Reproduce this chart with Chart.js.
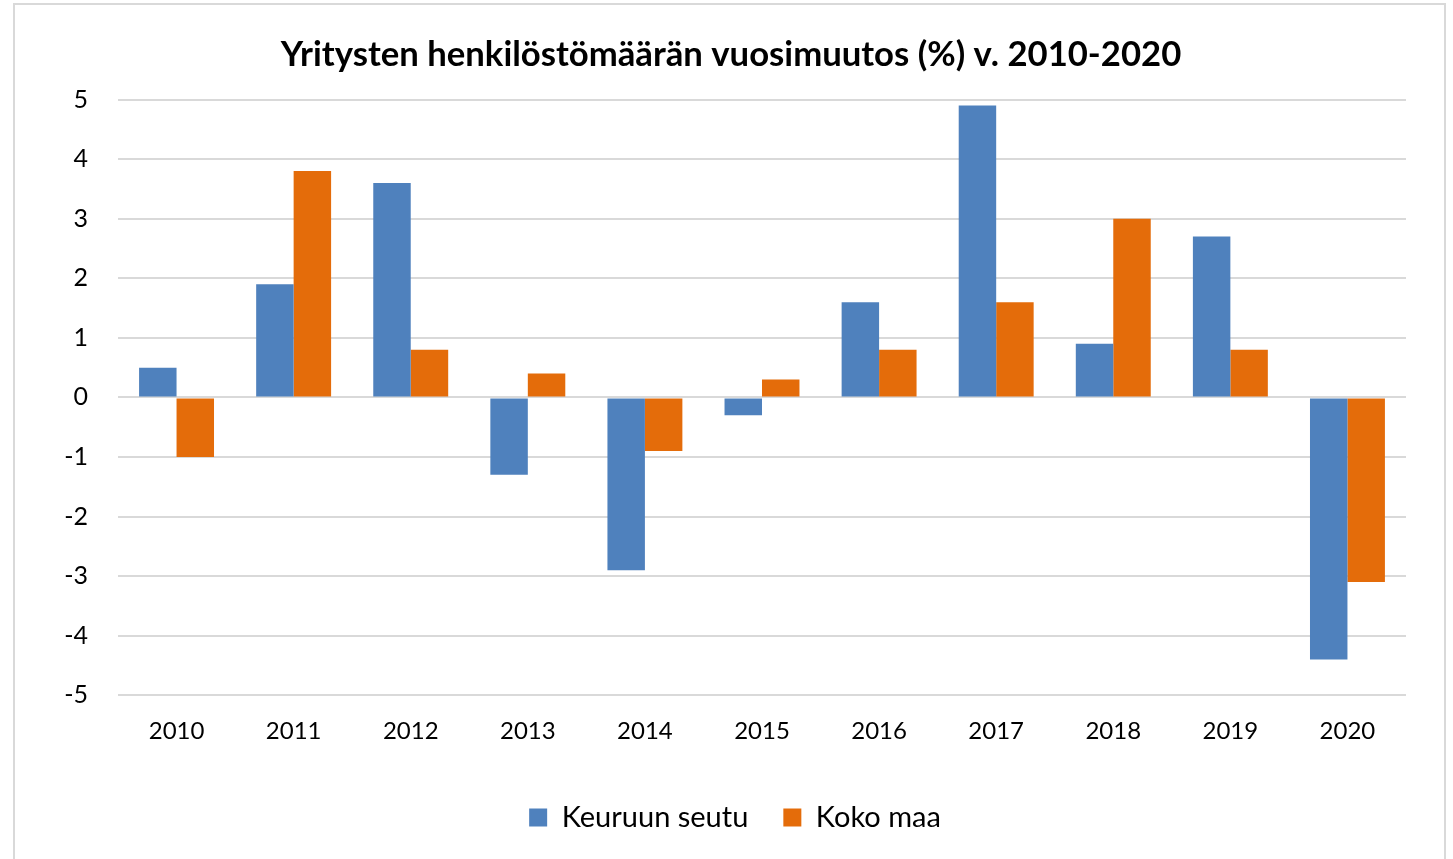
<!DOCTYPE html>
<html><head><meta charset="utf-8">
<script src="https://cdn.jsdelivr.net/npm/chart.js@4.4.1/dist/chart.umd.min.js"></script>
<style>html,body{margin:0;padding:0;background:#fff;}#wrap{width:1453px;height:859px;position:relative;}</style>
</head><body><div id="wrap"><canvas id="c" width="1453" height="859"></canvas></div>
<script>
const categories = ['2010','2011','2012','2013','2014','2015','2016','2017','2018','2019','2020'];
const keuruu = [0.5, 1.9, 3.6, -1.3, -2.9, -0.3, 1.6, 4.9, 0.9, 2.7, -4.4];
const kokoMaa = [-1.0, 3.8, 0.8, 0.4, -0.9, 0.3, 0.8, 1.6, 3.0, 0.8, -3.1];
const seriesNames = ['Keuruun seutu', 'Koko maa'];
const titleText = 'Yritysten henkilöstömäärän vuosimuutos (%) v. 2010-2020';

const borderPlugin = {
  id: 'frame',
  beforeDraw(chart) {
    const ctx = chart.ctx;
    ctx.save();
    ctx.strokeStyle = '#d9d9d9';
    ctx.lineWidth = 2;
    ctx.strokeRect(14, 4, 1431, 900);
    ctx.restore();
  }
};
const shiftPlugin = {
  id: 'shift',
  afterLayout(chart) {
    if (chart.titleBlock) { chart.titleBlock.left += 28; chart.titleBlock.right += 28; }
    if (chart.legend) { chart.legend.left += 32; chart.legend.right += 32; }
  }
};

new Chart(document.getElementById('c'), {
  type: 'bar',
  data: {
    labels: categories,
    datasets: [
      { label: seriesNames[0], data: keuruu, backgroundColor: '#4f81bd', categoryPercentage: 0.64, barPercentage: 1.0 },
      { label: seriesNames[1], data: kokoMaa, backgroundColor: '#e46c0a', categoryPercentage: 0.64, barPercentage: 1.0 }
    ]
  },
  options: {
    responsive: false,
    animation: false,
    devicePixelRatio: 1,
    layout: { padding: { left: 0, right: 47, top: 34, bottom: 17 } },
    plugins: {
      title: { display: true, text: titleText, color: '#000', font: { family: 'Lato', size: 34.7, weight: 'bold' }, padding: { top: 0, bottom: 24 } },
      legend: { position: 'bottom', labels: { color: '#000', font: { family: 'Lato', size: 29 }, boxWidth: 18, boxHeight: 18, padding: 35 } },
      tooltip: { enabled: false }
    },
    scales: {
      x: {
        grid: { display: false, drawTicks: false },
        border: { display: false },
        ticks: { color: '#000', font: { family: 'Lato', size: 24 }, padding: 22 }
      },
      y: {
        min: -5, max: 5,
        afterFit(s) { s.width = 118; },
        grid: { color: '#d9d9d9', lineWidth: 2, drawTicks: false },
        border: { display: false },
        ticks: { stepSize: 1, color: '#000', font: { family: 'Lato', size: 25 }, padding: 30 }
      }
    }
  },
  plugins: [borderPlugin, shiftPlugin]
});
</script></body></html>
